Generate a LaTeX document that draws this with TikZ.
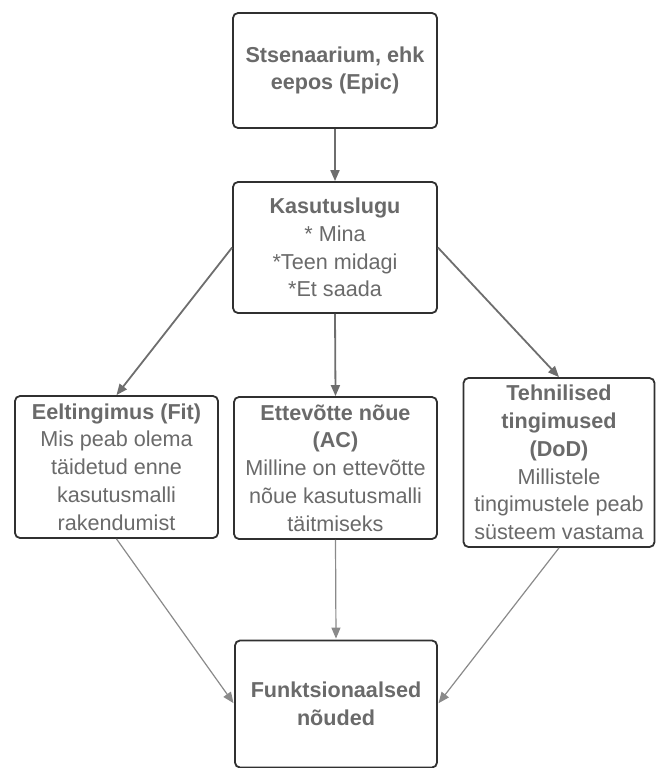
\documentclass[tikz,border=0pt]{standalone}
\usepackage{fontspec}
\setmainfont{Liberation Sans}
\usetikzlibrary{arrows.meta}
\definecolor{txtgray}{HTML}{6A6A6A}
\definecolor{edgegray}{HTML}{6E6E6E}
\definecolor{thingray}{HTML}{8A8A8A}
\definecolor{boxline}{HTML}{303030}
\tikzset{
  card/.style={draw=boxline, line width=1.8pt, rounded corners=5pt, fill=white,
    align=center, text=txtgray, inner sep=0pt,
    font=\fontsize{21.6}{27.8}\selectfont},
  flow/.style={draw=edgegray, line width=1.8pt,
    -{Triangle[length=11pt,width=9pt]}},
  thinflow/.style={draw=thingray, line width=1.2pt,
    -{Triangle[length=11pt,width=9pt]}, shorten >=1pt}
}
\begin{document}
\begin{tikzpicture}[x=1pt,y=-1pt]
\useasboundingbox (0,0) rectangle (656,768);

\node[card, minimum width=204pt, minimum height=115pt] (epic) at (335,70.5)
  {\textbf{Stsenaarium, ehk}\\\textbf{eepos (Epic)}};
\node[card, minimum width=204pt, minimum height=131pt] (story) at (335,247.5)
  {\textbf{Kasutuslugu}\\* Mina\\*Teen midagi\\*Et saada};
\node[card, minimum width=203pt, minimum height=142pt] (fit) at (116.5,467)
  {\textbf{Eeltingimus (Fit)}\\Mis peab olema\\täidetud enne\\kasutusmalli\\rakendumist};
\node[card, minimum width=203pt, minimum height=142pt] (ac) at (335.5,468)
  {\textbf{Ettevõtte nõue}\\\textbf{(AC)}\\Milline on ettevõtte\\nõue kasutusmalli\\täitmiseks};
\node[card, minimum width=191pt, minimum height=169pt] (dod) at (559,462.5)
  {\textbf{Tehnilised}\\\textbf{tingimused}\\\textbf{(DoD)}\\Millistele\\tingimustele peab\\süsteem vastama};
\node[card, minimum width=202pt, minimum height=127pt] (func) at (336,704)
  {\textbf{Funktsionaalsed}\\\textbf{nõuded}};

\draw[flow] (epic.south) -- (story.north);
\draw[flow] (story.west) -- (fit.north);
\draw[flow] (story.south) -- (ac.north);
\draw[flow] (story.east) -- (dod.north);
\draw[thinflow] (fit.south) -- (func.west);
\draw[thinflow] (ac.south) -- (func.north);
\draw[thinflow] (dod.south) -- (func.east);
\end{tikzpicture}
\end{document}
